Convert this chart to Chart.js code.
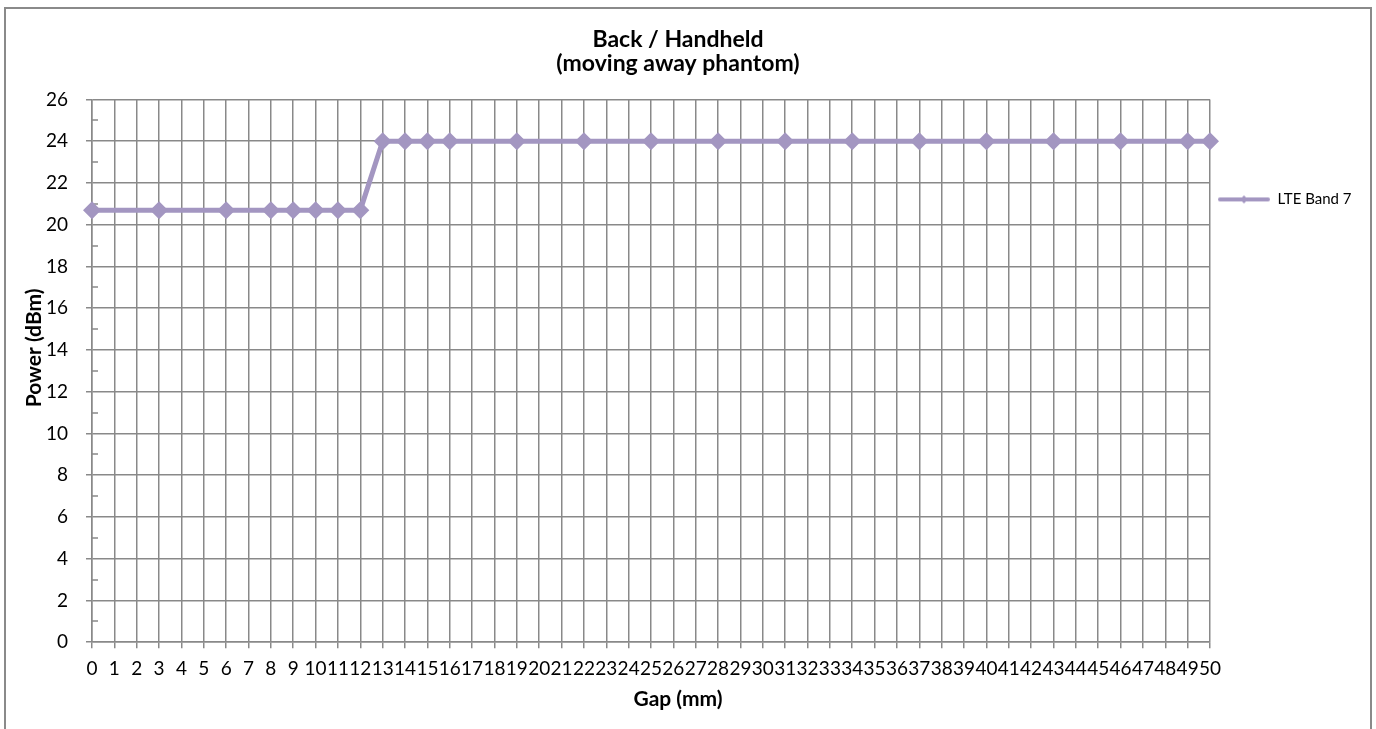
<!DOCTYPE html>
<html>
<head>
<meta charset="utf-8">
<script src="https://cdn.jsdelivr.net/npm/chart.js@4"></script>
<style>
  html, body { margin: 0; padding: 0; background: #fff; overflow: hidden; }
  #frame { position: absolute; left: 4px; top: 7px; width: 1364px; height: 740px; border: 2px solid #8a8a8a; border-bottom: none; }
  #chart { position: absolute; left: 0; top: 0; }
</style>
</head>
<body>
<div id="frame"></div>
<canvas id="chart" width="1376" height="729"></canvas>
<script>
// gap categories on the x axis (mm)
const gapLabels = ['0', '1', '2', '3', '4', '5', '6', '7', '8', '9', '10',
  '11', '12', '13', '14', '15', '16', '17', '18', '19', '20',
  '21', '22', '23', '24', '25', '26', '27', '28', '29', '30',
  '31', '32', '33', '34', '35', '36', '37', '38', '39', '40',
  '41', '42', '43', '44', '45', '46', '47', '48', '49', '50'];

// gaps that were measured, and the power read at each (dBm)
const measuredGaps = ['0', '3', '6', '8', '9', '10', '11', '12', '13', '14', '15', '16',
  '19', '22', '25', '28', '31', '34', '37', '40', '43', '46', '49', '50'];
const lteBand7 = [20.7, 20.7, 20.7, 20.7, 20.7, 20.7, 20.7, 20.7, 24, 24, 24, 24,
  24, 24, 24, 24, 24, 24, 24, 24, 24, 24, 24, 24];

const powerMin = 0;
const powerMax = 26;
const powerStep = 2;

const lineColor = 'rgb(163,150,193)';
const gridColor = '#898989';
const font = "Lato, 'Open Sans', sans-serif";

// legend sample: thick line with a small diamond in the middle
function legendSample() {
  const c = document.createElement('canvas');
  c.width = 52;
  c.height = 12;
  const g = c.getContext('2d');
  g.strokeStyle = lineColor;
  g.lineWidth = 4;
  g.lineCap = 'round';
  g.beginPath();
  g.moveTo(2, 6);
  g.lineTo(50, 6);
  g.stroke();
  g.fillStyle = lineColor;
  g.beginPath();
  g.moveTo(26, 2);
  g.lineTo(30, 6);
  g.lineTo(26, 10);
  g.lineTo(22, 6);
  g.closePath();
  g.fill();
  return c;
}

// short minor ticks between the y gridlines, inside the plot
const minorTicks = {
  id: 'minorTicks',
  beforeDatasetsDraw(chart) {
    const y = chart.scales.y;
    const ctx = chart.ctx;
    ctx.save();
    ctx.strokeStyle = gridColor;
    ctx.lineWidth = 1.5;
    for (let i = 1; i < y.ticks.length; i++) {
      const v = (y.ticks[i - 1].value + y.ticks[i].value) / 2;
      const py = Math.round(y.getPixelForValue(v));
      ctx.beginPath();
      ctx.moveTo(y.right, py);
      ctx.lineTo(y.right + 6, py);
      ctx.stroke();
    }
    ctx.restore();
  }
};

const points = measuredGaps.map((g, i) => ({ x: g, y: lteBand7[i] }));

new Chart(document.getElementById('chart'), {
  type: 'line',
  data: {
    labels: gapLabels,
    datasets: [{
      label: 'LTE Band 7',
      data: points,
      borderColor: lineColor,
      backgroundColor: lineColor,
      borderWidth: 5,
      pointStyle: 'rectRot',
      pointRadius: 9,
      pointBorderWidth: 0,
      pointBackgroundColor: lineColor,
      tension: 0
    }]
  },
  options: {
    responsive: false,
    animation: false,
    layout: { padding: { left: 0, right: 20, top: 0, bottom: 0 } },
    plugins: {
      title: {
        display: true,
        text: ['Back / Handheld', '(moving away phantom)'],
        color: '#000',
        font: { family: font, size: 23, weight: 'bold', lineHeight: 24 / 23 },
        padding: { top: 28, bottom: 23.5 }
      },
      // x axis title, centred on the whole chart like the original
      subtitle: {
        display: true,
        position: 'bottom',
        text: 'Gap (mm)',
        color: '#000',
        font: { family: font, size: 21, weight: 'bold', lineHeight: 1.2 },
        padding: { top: 0, bottom: 17.4 }
      },
      legend: {
        position: 'right',
        align: 'start',
        fullSize: false,
        maxWidth: 146,
        title: { display: true, text: '', font: { size: 12 }, padding: { top: 70, bottom: 0 } },
        labels: {
          usePointStyle: true,
          pointStyle: legendSample(),
          pointStyleWidth: 52,
          padding: 8,
          color: '#000',
          font: { family: font, size: 15 }
        }
      },
      tooltip: { enabled: false }
    },
    scales: {
      x: {
        type: 'category',
        offset: false,
        afterFit: (s) => { s.height = 44.2; },
        grid: { color: gridColor, lineWidth: 1.5, tickLength: 6, tickColor: gridColor },
        border: { color: gridColor, width: 1.5 },
        ticks: {
          autoSkip: false,
          maxRotation: 0,
          minRotation: 0,
          padding: 9,
          color: '#000',
          font: { family: font, size: 19 }
        }
      },
      y: {
        min: powerMin,
        max: powerMax,
        afterFit: (s) => { s.width = 92; },
        grid: { color: gridColor, lineWidth: 1.5, tickLength: 6, tickColor: gridColor },
        border: { color: gridColor, width: 1.5 },
        ticks: {
          stepSize: powerStep,
          padding: 18,
          color: '#000',
          font: { family: font, size: 19 }
        },
        title: {
          display: true,
          text: '         Power (dBm)',
          color: '#000',
          font: { family: font, size: 21, weight: 'bold', lineHeight: 1.2 },
          padding: { top: 22, bottom: 0 }
        }
      }
    }
  },
  plugins: [minorTicks]
});
</script>
</body>
</html>
